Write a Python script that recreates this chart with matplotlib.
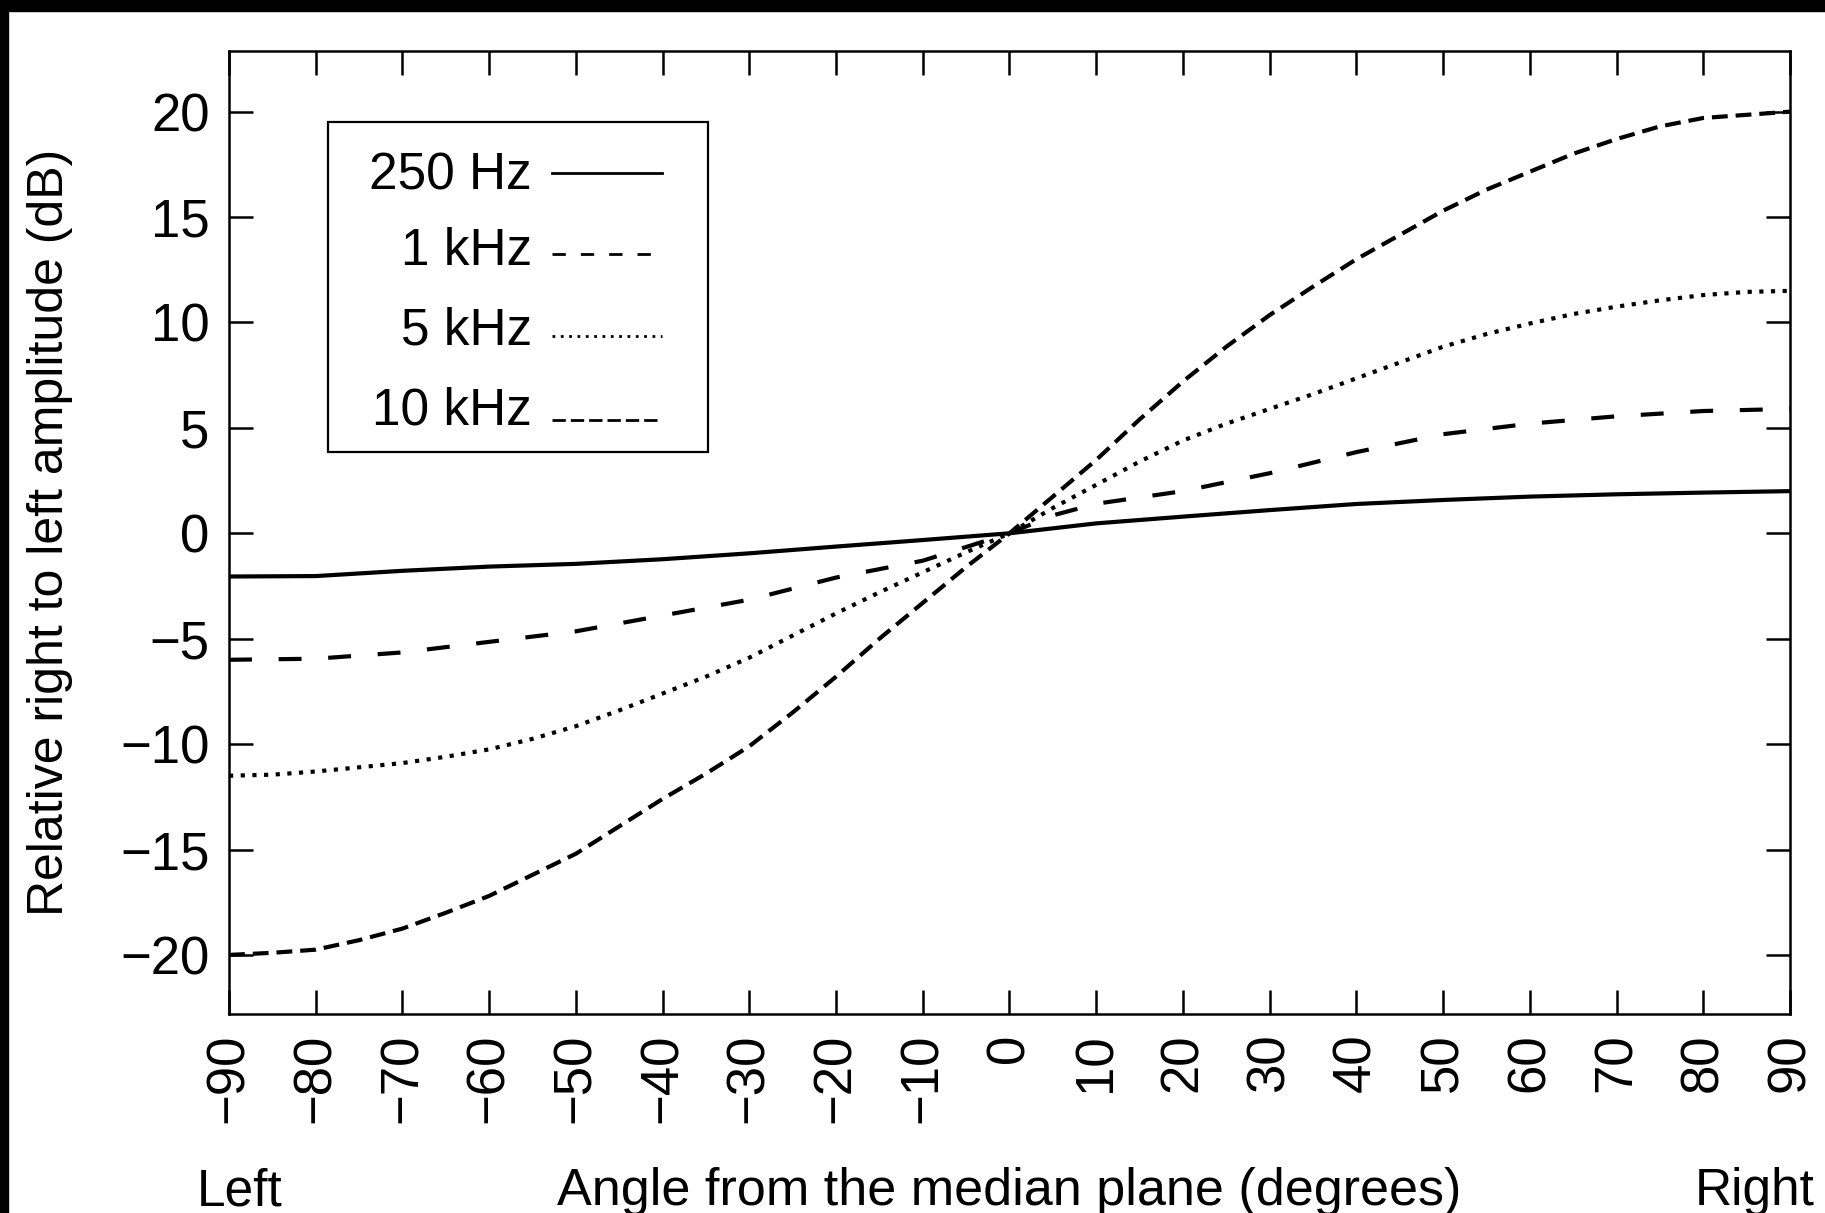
import matplotlib
matplotlib.use('Agg')
import matplotlib.pyplot as plt
from matplotlib.patches import Rectangle
from matplotlib.lines import Line2D

plt.rcParams['font.family'] = ['Liberation Sans', 'DejaVu Sans']

# ---- data ----
angles_250 = [-90, -80, -70, -60, -50, -40, -30, -20, -10, 0, 10, 20, 30, 40, 50, 60, 70, 80, 90]
db_250 = [-2.05, -2.03, -1.78, -1.58, -1.45, -1.23, -0.95, -0.63, -0.32, 0.0,
          0.47, 0.79, 1.10, 1.39, 1.58, 1.74, 1.85, 1.93, 2.0]

angles_1k = [-90, -80, -70, -60, -50, -40, -30, -20, -10, -5, 0, 5, 10, 20, 30, 40, 50, 60, 70, 80, 90]
db_1k = [-6.0, -5.95, -5.65, -5.15, -4.65, -3.9, -3.15, -2.1, -1.3, -0.65, 0.0,
         0.85, 1.4, 2.0, 2.85, 3.85, 4.7, 5.2, 5.55, 5.8, 5.9]

angles_5k = [-90, -85, -80, -75, -70, -65, -60, -55, -50, -45, -40, -35, -30, -25, -20, -15, -10, -5, 0,
             5, 10, 15, 20, 25, 30, 35, 40, 45, 50, 55, 60, 65, 70, 75, 80, 85, 90]
db_5k = [-11.5, -11.45, -11.3, -11.1, -10.9, -10.6, -10.25, -9.75, -9.15, -8.4, -7.6, -6.8, -5.9, -4.85,
         -3.8, -2.8, -1.85, -0.9, 0.0,
         1.2, 2.3, 3.4, 4.4, 5.2, 5.9, 6.6, 7.35, 8.1, 8.85, 9.45, 9.95, 10.4, 10.75, 11.05, 11.3, 11.45, 11.5]

angles_10k = [-90, -85, -80, -75, -70, -65, -60, -55, -50, -45, -40, -35, -30, -25, -20, -15, -10, -5, 0,
              5, 10, 15, 20, 25, 30, 35, 40, 45, 50, 55, 60, 65, 70, 75, 80, 85, 90]
db_10k = [-20.0, -19.9, -19.75, -19.3, -18.75, -18.0, -17.2, -16.2, -15.2, -13.9, -12.6, -11.4, -10.1,
          -8.5, -6.8, -5.0, -3.3, -1.6, 0.0,
          1.74, 3.48, 5.4, 7.2, 8.85, 10.35, 11.7, 13.0, 14.15, 15.3, 16.3, 17.15, 18.0, 18.7, 19.3, 19.7,
          19.85, 20.0]

series_labels = ['250 Hz', '1 kHz', '5 kHz', '10 kHz']
x_ticks = list(range(-90, 91, 10))
y_ticks = list(range(-20, 21, 5))

# ---- styles ----
plot_lw = 3.0
plot_dashes = [None, (5.5, 6.4), (1.0, 1.8), (3.8, 1.9)]
leg_lw = 2.0
leg_dashes = [None, (4.8, 5.4), (1.0, 2.0), (4.8, 1.8)]
FS_TICK = 38
FS_LEG = 37
FS_LAB = 38

fig = plt.figure(figsize=(18.25, 12.13), dpi=100)
ax = fig.add_axes([0.1255, 0.1641, 0.8553, 0.7939])

series = [(angles_250, db_250), (angles_1k, db_1k), (angles_5k, db_5k), (angles_10k, db_10k)]
for (xs, ys), d in zip(series, plot_dashes):
    if d is None:
        ax.plot(xs, ys, color='black', lw=plot_lw, solid_capstyle='butt')
    else:
        ax.plot(xs, ys, color='black', lw=plot_lw, dashes=d)

ax.set_xlim(-90, 90)
ax.set_ylim(-22.8, 22.88)
ax.set_xticks(x_ticks)
ax.set_yticks(y_ticks)
ax.tick_params(direction='in', length=17, width=1.8, top=True, right=True,
               labelsize=FS_TICK, pad=14, colors='black')
ax.tick_params(axis='x', labelrotation=90)
for s in ax.spines.values():
    s.set_linewidth(1.8)

# ---- legend (drawn manually: right-aligned labels, handle after label) ----
ax.add_patch(Rectangle((0.0634, 0.5836), 0.2435, 0.3427, transform=ax.transAxes,
                       fill=False, ec='black', lw=1.6, zorder=5))
text_y = [0.8564, 0.7778, 0.6947, 0.6116]
line_y = [0.8736, 0.7889, 0.7044, 0.6168]
for lab, ty, ly, d in zip(series_labels, text_y, line_y, leg_dashes):
    ax.text(0.1941, ty, lab, ha='right', va='baseline', fontsize=FS_LEG, transform=ax.transAxes)
    ln = Line2D([0.2067, 0.2772], [ly, ly], transform=ax.transAxes, color='black', lw=leg_lw)
    if d is not None:
        ln.set_dashes(d)
    ax.add_line(ln)

# ---- axis labels ----
fig.text(50 / 1825, 0.5614, 'Relative right to left amplitude (dB)', rotation=90,
         ha='center', va='center', fontsize=36)
base_y = 1 - 1205 / 1213
fig.text(0.5532, base_y, 'Angle from the median plane (degrees)', ha='center', va='baseline', fontsize=37.5)
fig.text(240 / 1825, base_y, 'Left', ha='center', va='baseline', fontsize=FS_LEG)
fig.text(1755 / 1825, base_y, 'Right', ha='center', va='baseline', fontsize=FS_LEG)

# ---- black frame strips at top and left of the reference ----
fig.add_artist(Rectangle((0, 1 - 11 / 1213), 1, 11 / 1213, transform=fig.transFigure,
                         color='black', zorder=10))
fig.add_artist(Rectangle((0, 0), 8 / 1825, 1, transform=fig.transFigure,
                         color='black', zorder=10))

fig.savefig('out.png', dpi=100, facecolor='white')
